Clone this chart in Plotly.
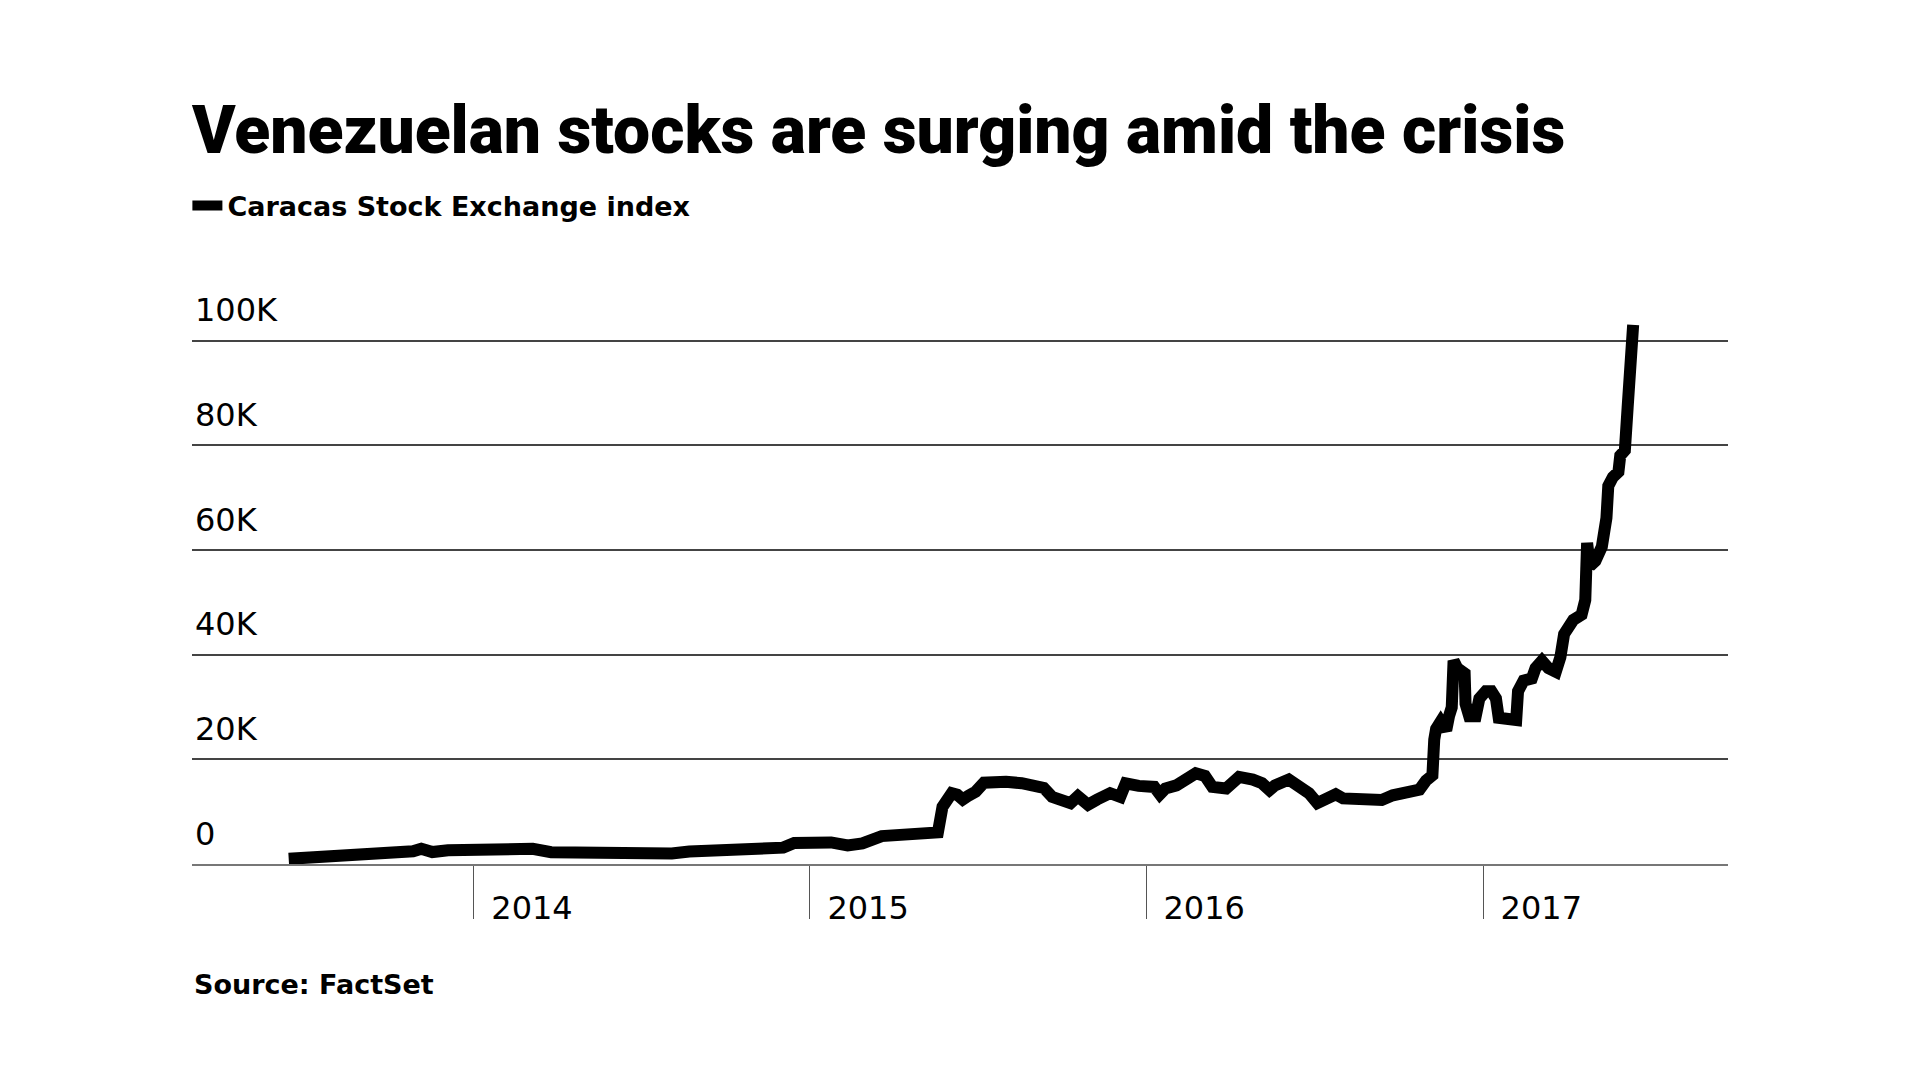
import plotly.graph_objects as go

# Caracas Stock Exchange index (IBC)
dates = [
    "2013-06-14", "2013-07-21", "2013-08-29", "2013-10-02", "2013-10-27", "2013-11-05", "2013-11-17", "2013-12-04",
    "2014-01-22", "2014-03-06", "2014-03-26", "2014-05-23", "2014-08-04", "2014-08-23", "2014-09-21", "2014-10-30",
    "2014-12-03", "2014-12-15",
    "2015-01-24", "2015-02-11", "2015-02-27", "2015-03-20", "2015-04-09", "2015-04-30", "2015-05-20", "2015-05-25",
    "2015-05-29", "2015-06-04", "2015-06-10", "2015-06-16", "2015-06-22", "2015-06-30", "2015-07-09", "2015-07-21",
    "2015-08-02", "2015-08-19", "2015-09-04", "2015-09-12", "2015-09-21", "2015-10-03", "2015-10-11", "2015-10-19",
    "2015-10-30", "2015-11-09", "2015-11-23", "2015-12-04", "2015-12-10", "2015-12-24",
    "2016-01-10", "2016-01-16", "2016-01-22", "2016-02-03", "2016-02-15", "2016-02-24", "2016-03-05", "2016-03-13",
    "2016-03-28", "2016-04-11", "2016-04-26", "2016-05-06", "2016-05-14", "2016-05-20", "2016-06-04", "2016-06-14",
    "2016-06-26", "2016-07-05", "2016-07-13", "2016-07-25", "2016-08-02", "2016-08-15", "2016-08-31", "2016-09-13",
    "2016-09-25",
    "2016-10-02", "2016-10-24", "2016-10-31", "2016-11-07", "2016-11-09", "2016-11-11", "2016-11-16", "2016-11-22",
    "2016-11-25", "2016-11-28", "2016-11-30", "2016-12-04", "2016-12-12", "2016-12-13", "2016-12-17", "2016-12-24",
    "2016-12-28",
    "2017-01-04", "2017-01-10", "2017-01-15", "2017-01-18", "2017-01-26", "2017-02-06", "2017-02-08", "2017-02-14",
    "2017-02-23", "2017-02-27", "2017-03-06", "2017-03-13", "2017-03-21", "2017-03-26", "2017-03-30", "2017-04-04",
    "2017-04-09", "2017-04-18", "2017-04-22", "2017-04-24", "2017-04-27", "2017-05-03", "2017-05-10", "2017-05-15",
    "2017-05-17", "2017-05-22", "2017-05-28", "2017-05-30", "2017-06-04", "2017-06-07", "2017-06-08", "2017-06-11",
    "2017-06-13",
]
index_values = [
    955, 1300, 1700, 2250, 2400, 2900, 2250, 2600,
    2870, 2870, 2230, 2050, 1980, 2360, 2730, 2850,
    3100, 3970,
    4090, 3530, 3900, 5300, 5600, 5800, 6000, 10900,
    12000, 13500, 13200, 12300, 13000, 13800, 15500, 15700,
    15700, 15400, 15100, 14500, 12800, 11800, 11600, 12900,
    11300, 12300, 13500, 12800, 15400, 14900,
    14700, 13300, 14400, 15000, 16600, 17300, 16800, 14700,
    14400, 16600, 16100, 15400, 14100, 15000, 16100, 15000,
    13500, 11600, 12200, 13300, 12500, 12300, 11900, 12200,
    13100,
    13500, 14200, 15900, 16900, 23750, 25800, 27200, 25500,
    28200, 29900, 38800, 37400, 36400, 30600, 28200, 28200,
    31600,
    33000, 33000, 31600, 27900, 27500, 27500, 33000, 35000,
    35400, 37400, 38800, 37400, 36700, 39500, 43900, 45300,
    46600, 47600, 50400, 61300, 56900, 57900, 60600, 66100,
    72200, 73900, 74900, 78000, 79000, 87200, 92400, 98200,
    103000,
]

y_ticks = [0, 20000, 40000, 60000, 80000, 100000]
y_tick_labels = ["0", "20K", "40K", "60K", "80K", "100K"]
x_ticks = ["2014-01-01", "2015-01-01", "2016-01-01", "2017-01-01"]
x_tick_labels = ["2014", "2015", "2016", "2017"]

# page has an 8px body margin, so the figure is drawn 8px in from the corner
W, H = 1904, 1064
L, R, T, B = 184, 184, 254, 208
plot_h = H - T - B


def paper_y(fig_y):
    # figure pixel row -> paper coordinate
    return (H - B - fig_y) / plot_h


fig = go.Figure()
fig.add_trace(go.Scatter(
    x=dates, y=index_values,
    mode="lines",
    name="Caracas Stock Exchange index",
    line=dict(color="black", width=12),
))

fig.update_layout(
    width=W, height=H, autosize=False,
    paper_bgcolor="white", plot_bgcolor="white",
    margin=dict(l=L, r=R, t=T, b=B),
    title=dict(
        text="Venezuelan stocks are surging amid the crisis",
        x=0, xanchor="left", xref="paper",
        y=1 - 122 / H, yanchor="middle", yref="container",
        font=dict(family="Roboto", size=66, color="black", weight=900),
        pad=dict(l=0),
    ),
    showlegend=True,
    legend=dict(
        x=-0.003, xanchor="left", y=paper_y(198), yanchor="middle",
        font=dict(family="DejaVu Sans", size=27, color="black", weight="bold"),
        itemwidth=30, bgcolor="rgba(0,0,0,0)",
    ),
    xaxis=dict(
        type="date",
        range=["2013-03-01", "2017-09-24"],
        tickvals=x_ticks, ticktext=x_tick_labels,
        ticks="outside", ticklen=53, tickwidth=1, tickcolor="#555",
        ticklabelposition="outside right",
        ticklabelshift=16, ticklabelstandoff=15,
        tickfont=dict(family="DejaVu Sans", size=32, color="black"),
        showgrid=False, zeroline=False,
        showline=True, linecolor="#777", linewidth=2,
        fixedrange=True,
    ),
    yaxis=dict(
        range=[-30, 115000],
        tickvals=y_ticks, ticktext=y_tick_labels,
        ticklabelposition="inside top",
        ticklabelshift=-8,
        tickfont=dict(family="DejaVu Sans", size=32, color="black"),
        showgrid=True, gridcolor="#444", gridwidth=2,
        zeroline=False, showline=False, ticks="",
        fixedrange=True,
    ),
    annotations=[dict(
        text="<b>Source: FactSet</b>",
        x=0, xref="paper", xanchor="left",
        y=paper_y(976), yref="paper", yanchor="middle",
        showarrow=False,
        font=dict(family="DejaVu Sans", size=27, color="black"),
    )],
)

fig.write_html("out.html")
